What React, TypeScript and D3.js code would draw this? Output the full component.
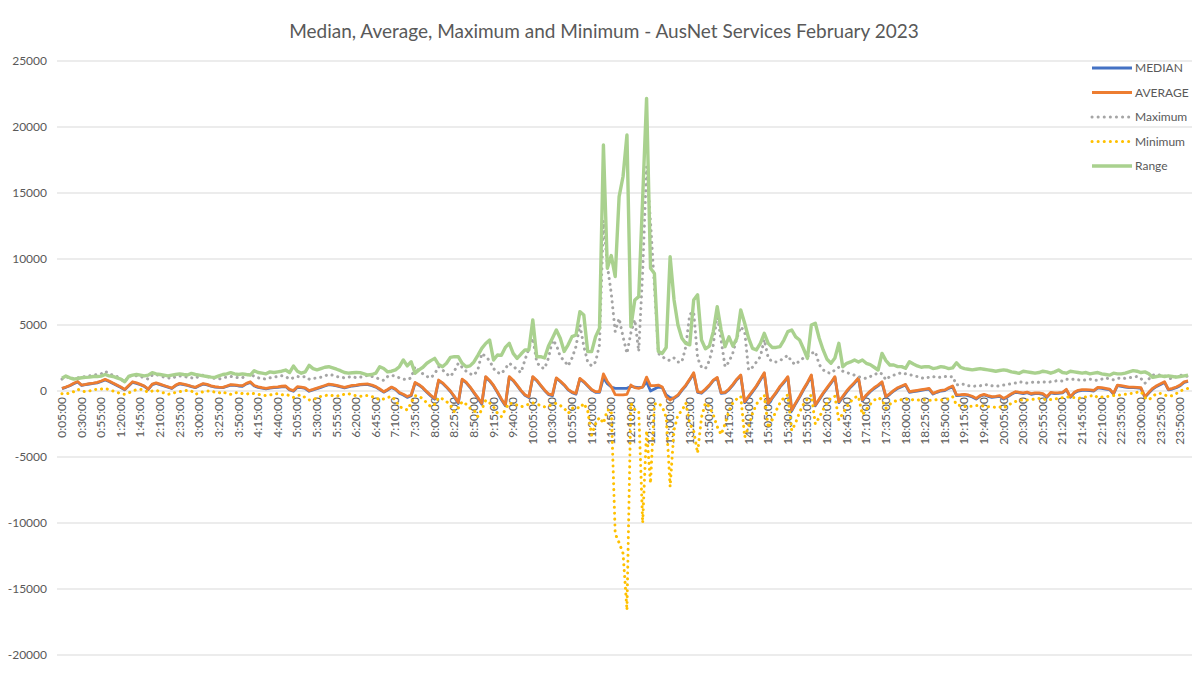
import React from 'react';
import * as d3 from 'd3';

// 5-minute intervals, 0:05 .. 24:00 (288 points)
const TIMES: string[] = d3.range(288).map(i => {
  const m = (i + 1) * 5;
  const h = Math.floor(m / 60) % 24;
  const mm = m % 60;
  return `${h}:${String(mm).padStart(2, '0')}:00`;
});

const MEDIAN = [
  180, 280, 400, 550, 680, 420,
  480, 530, 580, 620, 720, 840,
  720, 560, 420, 270, 90, 380,
  660, 580, 470, 350, 120, 480,
  580, 480, 390, 290, 190, 410,
  540, 480, 420, 330, 250, 400,
  520, 460, 360, 300, 270, 250,
  340, 440, 420, 380, 360, 540,
  650, 380, 280, 210, 160, 220,
  260, 280, 320, 340, 80, -20,
  280, 250, 190, -20, 80, 180,
  280, 380, 480, 440, 390, 310,
  240, 310, 380, 410, 460, 480,
  490, 410, 290, 110, -90, 80,
  260, 110, -160, -300, -480, -360,
  600, 440, 210, -90, -370, -620,
  780, 580, 290, -40, -450, -950,
  850, 640, 280, -140, -560, -1000,
  1040, 760, 380, -120, -660, -1120,
  1040, 780, 410, 10, -330, -490,
  1040, 780, 410, 40, -270, -360,
  950, 720, 440, 80, -130, -240,
  910, 680, 380, 80, -100, -100,
  1000, 550, 300, 200, 200, 200,
  200, 350, 300, 250, 300, 700,
  0, 150, 300, 250, -300, -500,
  -550, -350, 50, 400, 850, 1300,
  -100, -170, 100, 400, 780, 980,
  -180, -150, 100, 450, 850, 1150,
  -880, -460, -60, 340, 840, 1330,
  -1000, -560, -160, 290, 640, 1030,
  -1500, -960, -460, 90, 590, 1150,
  -1120, -660, -210, 190, 590, 1030,
  -880, -460, -60, 290, 590, 940,
  -740, -360, -60, 190, 390, 640,
  -480, -250, 0, 200, 330, 450,
  -100, -50, 0, 50, 100, 150,
  -230, -100, 0, 30, 200, 330,
  -350, -330, -300, -350, -450, -610,
  -400, -300, -400, -480, -450, -400,
  -610, -450, -250, -100, -150, -200,
  -130, -250, -200, -200, -250, -480,
  -150, -200, -180, -150, 80, -480,
  -150, 0, 50, 50, 30, 0,
  230, 200, 150, 100, -230, 400,
  350, 300, 250, 250, 230, 200,
  -480, -150, 150, 350, 500, 650,
  80, 150, 250, 400, 650, 720,
];

const AVERAGE = [
  200, 300, 420, 580, 720, 450,
  500, 560, 600, 650, 760, 880,
  760, 600, 450, 300, 120, 420,
  700, 620, 500, 380, 150, 520,
  620, 520, 420, 320, 220, 450,
  580, 520, 450, 360, 280, 430,
  560, 500, 390, 330, 300, 280,
  380, 480, 460, 420, 400, 580,
  700, 420, 320, 250, 200, 260,
  300, 320, 360, 380, 120, 30,
  330, 300, 240, 30, 120, 220,
  320, 420, 520, 480, 430, 350,
  280, 350, 420, 450, 500, 520,
  530, 450, 330, 150, -50, 120,
  300, 150, -120, -250, -420, -300,
  650, 480, 250, -50, -320, -560,
  830, 620, 330, 0, -400, -880,
  900, 680, 320, -100, -500, -930,
  1090, 800, 420, -80, -600, -1060,
  1090, 820, 450, 50, -280, -430,
  1090, 820, 450, 80, -220, -300,
  1000, 760, 480, 120, -80, -180,
  960, 720, 420, 120, -50, -50,
  1290, 720, 330, -280, -300, -300,
  -250, 450, 250, 200, 300, 1050,
  400, 400, 450, 300, -430, -680,
  -500, -300, 100, 450, 900, 1390,
  -50, -120, 150, 450, 830, 1030,
  -130, -100, 150, 500, 900, 1210,
  -810, -400, 0, 400, 900, 1390,
  -930, -500, -100, 350, 700, 1090,
  -1440, -900, -400, 150, 650, 1210,
  -1060, -600, -150, 250, 650, 1090,
  -810, -400, 0, 350, 650, 1000,
  -680, -300, 0, 250, 450, 700,
  -430, -200, 50, 250, 380, 500,
  -50, 0, 50, 100, 150, 200,
  -180, -50, 50, 80, 250, 380,
  -300, -280, -250, -300, -400, -560,
  -350, -250, -350, -430, -400, -350,
  -560, -400, -200, -50, -100, -150,
  -80, -200, -150, -150, -200, -430,
  -100, -150, -130, -100, 130, -430,
  -100, 50, 100, 100, 80, 50,
  280, 250, 200, 150, -180, 450,
  400, 350, 300, 300, 280, 250,
  -430, -100, 200, 400, 550, 700,
  130, 200, 300, 450, 700, 760,
];

const MAXIMUM = [
  900, 1000, 1100, 900, 1000, 1050,
  1100, 1150, 1200, 1250, 1300, 1500,
  1300, 1200, 1100, 900, 700, 1100,
  1200, 1150, 1100, 1000, 900, 1200,
  1250, 1150, 1050, 1000, 950, 1100,
  1150, 1100, 1050, 1000, 950, 1150,
  1200, 1100, 1000, 950, 900, 1000,
  1050, 1100, 1050, 1000, 1000, 1200,
  1300, 1100, 1000, 950, 900, 1000,
  1050, 1100, 1150, 1100, 900, 1000,
  1100, 1050, 1100, 900, 950, 1000,
  1050, 1150, 1250, 1200, 1100, 1050,
  1000, 1050, 1100, 1000, 1050, 1100,
  1200, 1100, 1000, 900, 800, 1100,
  1200, 1100, 1000, 900, 850, 1000,
  1850, 1500, 1300, 1100, 1000, 1300,
  1850, 1600, 1300, 1100, 1500, 2100,
  1800, 1500, 1300, 1200, 1600, 2850,
  2600, 2300, 1700, 1400, 1300, 1700,
  2100, 1900, 1600, 1400, 2350, 3230,
  4000, 2200, 1800, 1700, 2500, 3860,
  3500, 2600, 2300, 1900, 2500, 3360,
  5000, 3400, 2200, 1900, 2200, 3500,
  12900, 9500, 7400, 4500, 5500, 4100,
  2850, 4400, 5400, 3000, 9000, 17000,
  12800, 7900, 2850, 2600, 2400, 2300,
  2500, 2200, 2200, 3360, 5800, 6000,
  2500, 1800, 1700, 2300, 3500, 5800,
  3860, 1840, 2200, 2900, 4000, 4870,
  4500, 1590, 1800, 2200, 2600, 3900,
  2500, 2220, 2200, 2300, 2500, 2700,
  2200, 2000, 2300, 2500, 2600, 2850,
  2980, 2000, 1600, 1400, 1340, 1600,
  1800, 1500, 1400, 1300, 1200, 1080,
  1000, 950, 1100, 1200, 1400, 1300,
  840, 1100, 1200, 1300, 1390, 1300,
  1250, 1150, 1100, 1000, 950, 1050,
  1100, 1000, 1050, 1100, 1050, 1100,
  450, 550, 500, 400, 350, 380,
  400, 450, 500, 400, 350, 400,
  450, 500, 550, 600, 700, 650,
  600, 650, 700, 650, 700, 650,
  700, 750, 800, 750, 900, 850,
  900, 850, 800, 850, 900, 850,
  800, 900, 1000, 900, 850, 950,
  1000, 950, 1000, 1050, 1100, 950,
  580, 900, 1200, 1260, 1200, 1150,
  1000, 900, 1100, 1210, 1150, 1100,
];

const MINIMUM = [
  -200, -230, -150, -50, 130, 0,
  -50, 0, 100, 130, 150, 200,
  100, 0, -100, -200, -250, -150,
  0, 100, 130, 50, -100, 0,
  50, -50, -150, -250, -200, -100,
  -50, 0, 50, 0, -250, -150,
  -50, 0, 0, -100, -150, -50,
  -200, -250, -150, -100, -200, -250,
  -150, -200, -250, -300, -350, -300,
  -250, -200, -300, -250, -350, -480,
  -350, -300, -500, -680, -600, -560,
  -400, -350, -300, -350, -400, -300,
  -250, -200, -300, -350, -400, -350,
  -350, -430, -500, -680, -600, -500,
  -400, -700, -1190, -1300, -1440, -900,
  -350, -400, -600, -900, -1190, -1000,
  -500, -600, -800, -1060, -1570, -1300,
  -800, -1000, -1300, -1440, -1940, -1400,
  -700, -900, -1200, -1690, -1940, -1400,
  -900, -1000, -1060, -1200, -1100, -1000,
  -900, -1000, -1100, -1200, -1150, -1000,
  -930, -1100, -1300, -1700, -1320, -1200,
  -1320, -930, -1500, -3330, -2500, -2000,
  -2450, -1440, -1440, -10800, -11500, -12300,
  -16600, -930, -1400, -1500, -10000, -3000,
  -7000, -1000, -900, -1200, -2000, -7250,
  -2950, -1800, -1500, -900, -2500, -3000,
  -4700, -2000, -900, -1200, -1800, -2700,
  -3300, -2500, -1500, -900, -600, -400,
  -3500, -2700, -1700, -1000, -600, -300,
  -2800, -2200, -1500, -900, -500, -300,
  -3000, -2400, -1600, -1000, -600, -300,
  -2500, -2000, -1400, -900, -500, -400,
  -2200, -1700, -1200, -800, -500, -400,
  -1800, -1400, -1000, -700, -500, -680,
  -1300, -1000, -800, -700, -650, -600,
  -700, -650, -700, -650, -680, -700,
  -700, -650, -700, -650, -600, -430,
  -1060, -1100, -1190, -1150, -1150, -1100,
  -1100, -1150, -1200, -1190, -1250, -1200,
  -1310, -1060, -950, -800, -700, -680,
  -680, -650, -600, -560, -600, -680,
  -650, -600, -560, -500, -430, -500,
  -500, -560, -500, -450, -400, -300,
  -500, -450, -430, -400, -350, -300,
  -300, -250, -200, -180, -100, -50,
  -500, -680, -400, -200, -180, -300,
  -400, -350, -200, 0, 100, 200,
];

const RANGE = [
  960, 1130, 1000, 900, 950, 1000,
  1030, 1050, 1100, 1100, 1130, 1250,
  1150, 1100, 1000, 900, 700, 1100,
  1200, 1250, 1200, 1150, 1200, 1390,
  1300, 1250, 1200, 1150, 1200, 1250,
  1300, 1250, 1210, 1330, 1250, 1200,
  1150, 1100, 1050, 1030, 1150, 1250,
  1300, 1390, 1300, 1250, 1300, 1250,
  1210, 1540, 1400, 1350, 1300, 1450,
  1400, 1450, 1500, 1590, 1400, 1890,
  1500, 1350, 1450, 1940, 1700, 1600,
  1700, 1800, 1840, 1750, 1650, 1540,
  1400, 1350, 1380, 1400, 1390, 1300,
  1210, 1250, 1350, 1840, 1700, 1450,
  1500, 1600, 1840, 2350, 1900, 2220,
  1340, 1600, 1800, 2100, 2300, 2470,
  2000, 1840, 2100, 2550, 2600, 2600,
  2100, 1840, 1900, 2200, 2700, 3230,
  3600, 3860, 2350, 2730, 2700, 3300,
  3610, 2850, 2470, 2800, 3110, 3110,
  5380, 2600, 2600, 2500, 3400, 4000,
  4620, 4000, 3000, 3500, 4120, 4240,
  6010, 5760, 2980, 2980, 4120, 4750,
  18640, 9300, 10260, 8670, 14730, 16250,
  19400, 4870, 6890, 7150, 14600, 22170,
  9300, 8900, 3000, 2850, 3300, 10170,
  6900, 5000, 4000, 3610, 3500, 6890,
  7280, 3860, 3200, 3400, 4500, 6390,
  4620, 3360, 4100, 3400, 4000, 6140,
  5130, 4000, 3230, 3110, 3600, 4370,
  3610, 3300, 3300, 3360, 3860, 4500,
  4620, 4100, 3860, 3200, 2470, 5000,
  5130, 4000, 3110, 2400, 2100, 2500,
  3610, 1840, 2100, 2200, 2350, 2200,
  2350, 2100, 2000, 1800, 1590, 2850,
  2300, 1970, 1970, 1850, 1850, 1720,
  2220, 2050, 1900, 1800, 1850, 1840,
  1700, 1750, 1850, 1800, 1700, 1750,
  2140, 1800, 1700, 1650, 1600, 1650,
  1700, 1650, 1600, 1550, 1500, 1550,
  1600, 1550, 1450, 1400, 1340, 1500,
  1450, 1400, 1350, 1400, 1500, 1450,
  1350, 1450, 1590, 1400, 1350, 1500,
  1450, 1400, 1350, 1400, 1300, 1350,
  1400, 1300, 1250, 1200, 1350, 1300,
  1300, 1350, 1450, 1540, 1500, 1400,
  1450, 1300, 1030, 1100, 1150, 1100,
  1150, 1100, 1050, 1100, 1150, 1200,
];

const Y_TICKS = [-20000, -15000, -10000, -5000, 0, 5000, 10000, 15000, 20000, 25000];

const TITLE = 'Median, Average, Maximum and Minimum - AusNet Services February 2023';

interface Series {
  name: string;
  values: number[];
  color: string;
  width: number;
  dotted: boolean;
}

const SERIES: Series[] = [
  { name: 'MEDIAN', values: MEDIAN, color: '#4472C4', width: 2.8, dotted: false },
  { name: 'AVERAGE', values: AVERAGE, color: '#ED7D31', width: 2.8, dotted: false },
  { name: 'Maximum', values: MAXIMUM, color: '#A5A5A5', width: 3, dotted: true },
  { name: 'Minimum', values: MINIMUM, color: '#FFC000', width: 3, dotted: true },
  { name: 'Range', values: RANGE, color: '#A9D18E', width: 3.4, dotted: false },
];

const W = 1202;
const H = 695;
const FONT = 'Lato, "Open Sans", "Liberation Sans", sans-serif';
const TEXT = '#595959';

const App: React.FC = () => {
  const x = d3.scalePoint<string>().domain(TIMES).range([60, 1190]).padding(0.5);
  const y = d3.scaleLinear().domain([-20000, 25000]).range([655, 61]);

  const line = d3.line<number>()
    .x((_, i) => x(TIMES[i]) as number)
    .y(d => y(d));

  const xTicks = TIMES.filter((_, i) => i % 5 === 0);

  return (
    <div style={{ position: 'fixed', left: 0, top: 0, width: W, height: H, background: '#fff' }}>
      <svg width={W} height={H} style={{ display: 'block', fontFamily: FONT }}>
        <rect width={W} height={H} fill="#fff" />
        <text x={604} y={38} textAnchor="middle" fontSize={19} fill={TEXT}>{TITLE}</text>

        {/* gridlines and y labels */}
        {Y_TICKS.map(t => (
          <g key={t}>
            <line x1={57} x2={1192} y1={y(t)} y2={y(t)} stroke="#d9d9d9" strokeWidth={1} />
            <text x={47} y={y(t)} dy="0.35em" textAnchor="end" fontSize={12} fill={TEXT}>{t}</text>
          </g>
        ))}

        {/* x labels */}
        {xTicks.map(t => {
          const px = x(t) as number;
          return (
            <text key={t} transform={`translate(${px + 4},${y(0) + 6}) rotate(-90)`}
              textAnchor="end" fontSize={12} fill={TEXT}>{t}</text>
          );
        })}

        {/* series */}
        {SERIES.map(s => (
          <path key={s.name} d={line(s.values) || ''} fill="none" stroke={s.color}
            strokeWidth={s.width} strokeLinejoin="round"
            strokeLinecap={s.dotted ? 'round' : 'butt'}
            strokeDasharray={s.dotted ? '0.1 5.8' : undefined} />
        ))}

        {/* legend */}
        {SERIES.map((s, i) => {
          const ly = 68 + i * 24.5;
          return (
            <g key={s.name}>
              <line x1={1092} x2={1132} y1={ly} y2={ly} stroke={s.color} strokeWidth={s.width}
                strokeLinecap={s.dotted ? 'round' : 'butt'}
                strokeDasharray={s.dotted ? '0.1 6' : undefined} />
              <text x={1135} y={ly} dy="0.35em" fontSize={12} fill={TEXT}>{s.name}</text>
            </g>
          );
        })}
      </svg>
    </div>
  );
};

export default App;
